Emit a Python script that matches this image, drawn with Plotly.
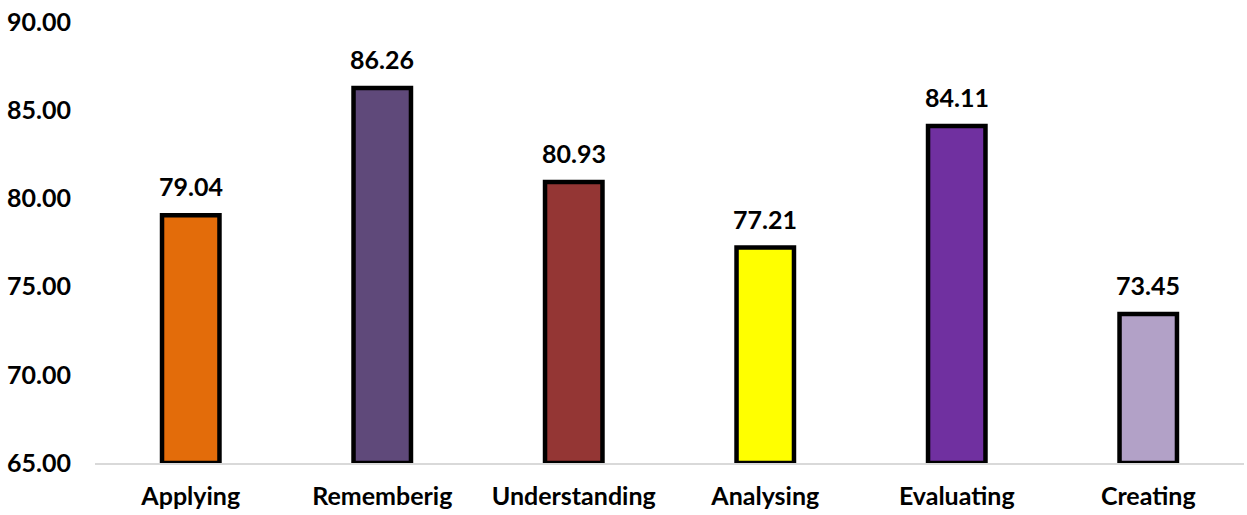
import plotly.graph_objects as go

categories = ["Applying", "Rememberig", "Understanding", "Analysing", "Evaluating", "Creating"]
values = [79.04, 86.26, 80.93, 77.21, 84.11, 73.45]
colors = ["#E36C0A", "#5F497A", "#943634", "#FFFF00", "#7030A0", "#B2A1C7"]
y_ticks = [65, 70, 75, 80, 85, 90]
y_min, y_max = 65, 90

font_family = "Lato, 'Open Sans', sans-serif"
fs = 25

fig = go.Figure()
fig.add_trace(go.Bar(
    x=categories,
    y=[v - y_min for v in values],
    base=y_min,
    marker=dict(color=colors, line=dict(color="black", width=4.5)),
    width=0.3,
    hoverinfo="skip",
))

for c, v in zip(categories, values):
    fig.add_annotation(x=c, y=v, text=f"<b>{v:.2f}</b>", showarrow=False,
                       yanchor="bottom", yshift=12,
                       font=dict(family=font_family, size=fs, color="black"))

fig.update_layout(
    width=1247, height=515,
    margin=dict(l=95, r=3, t=22, b=52),
    paper_bgcolor="white", plot_bgcolor="white",
    showlegend=False,
    font=dict(family=font_family, size=fs, color="black"),
    xaxis=dict(
        showgrid=False, showline=True, linecolor="#D9D9D9", linewidth=2,
        tickfont=dict(family=font_family, size=fs, color="black", weight="bold"),
        ticklabelstandoff=10, automargin=False, ticklabeloverflow="allow",
    ),
    yaxis=dict(
        range=[y_min, y_max], tickvals=y_ticks,
        ticktext=[f"{t:.2f}" for t in y_ticks],
        showgrid=False, zeroline=False, showline=False,
        tickfont=dict(family=font_family, size=fs, color="black", weight="bold"),
        ticklabelstandoff=23, automargin=False, ticklabeloverflow="allow",
    ),
)

fig.write_html(
    "out.html",
    config={"displayModeBar": False},
    post_script="document.body.style.margin='0';document.body.style.overflow='hidden';",
)
